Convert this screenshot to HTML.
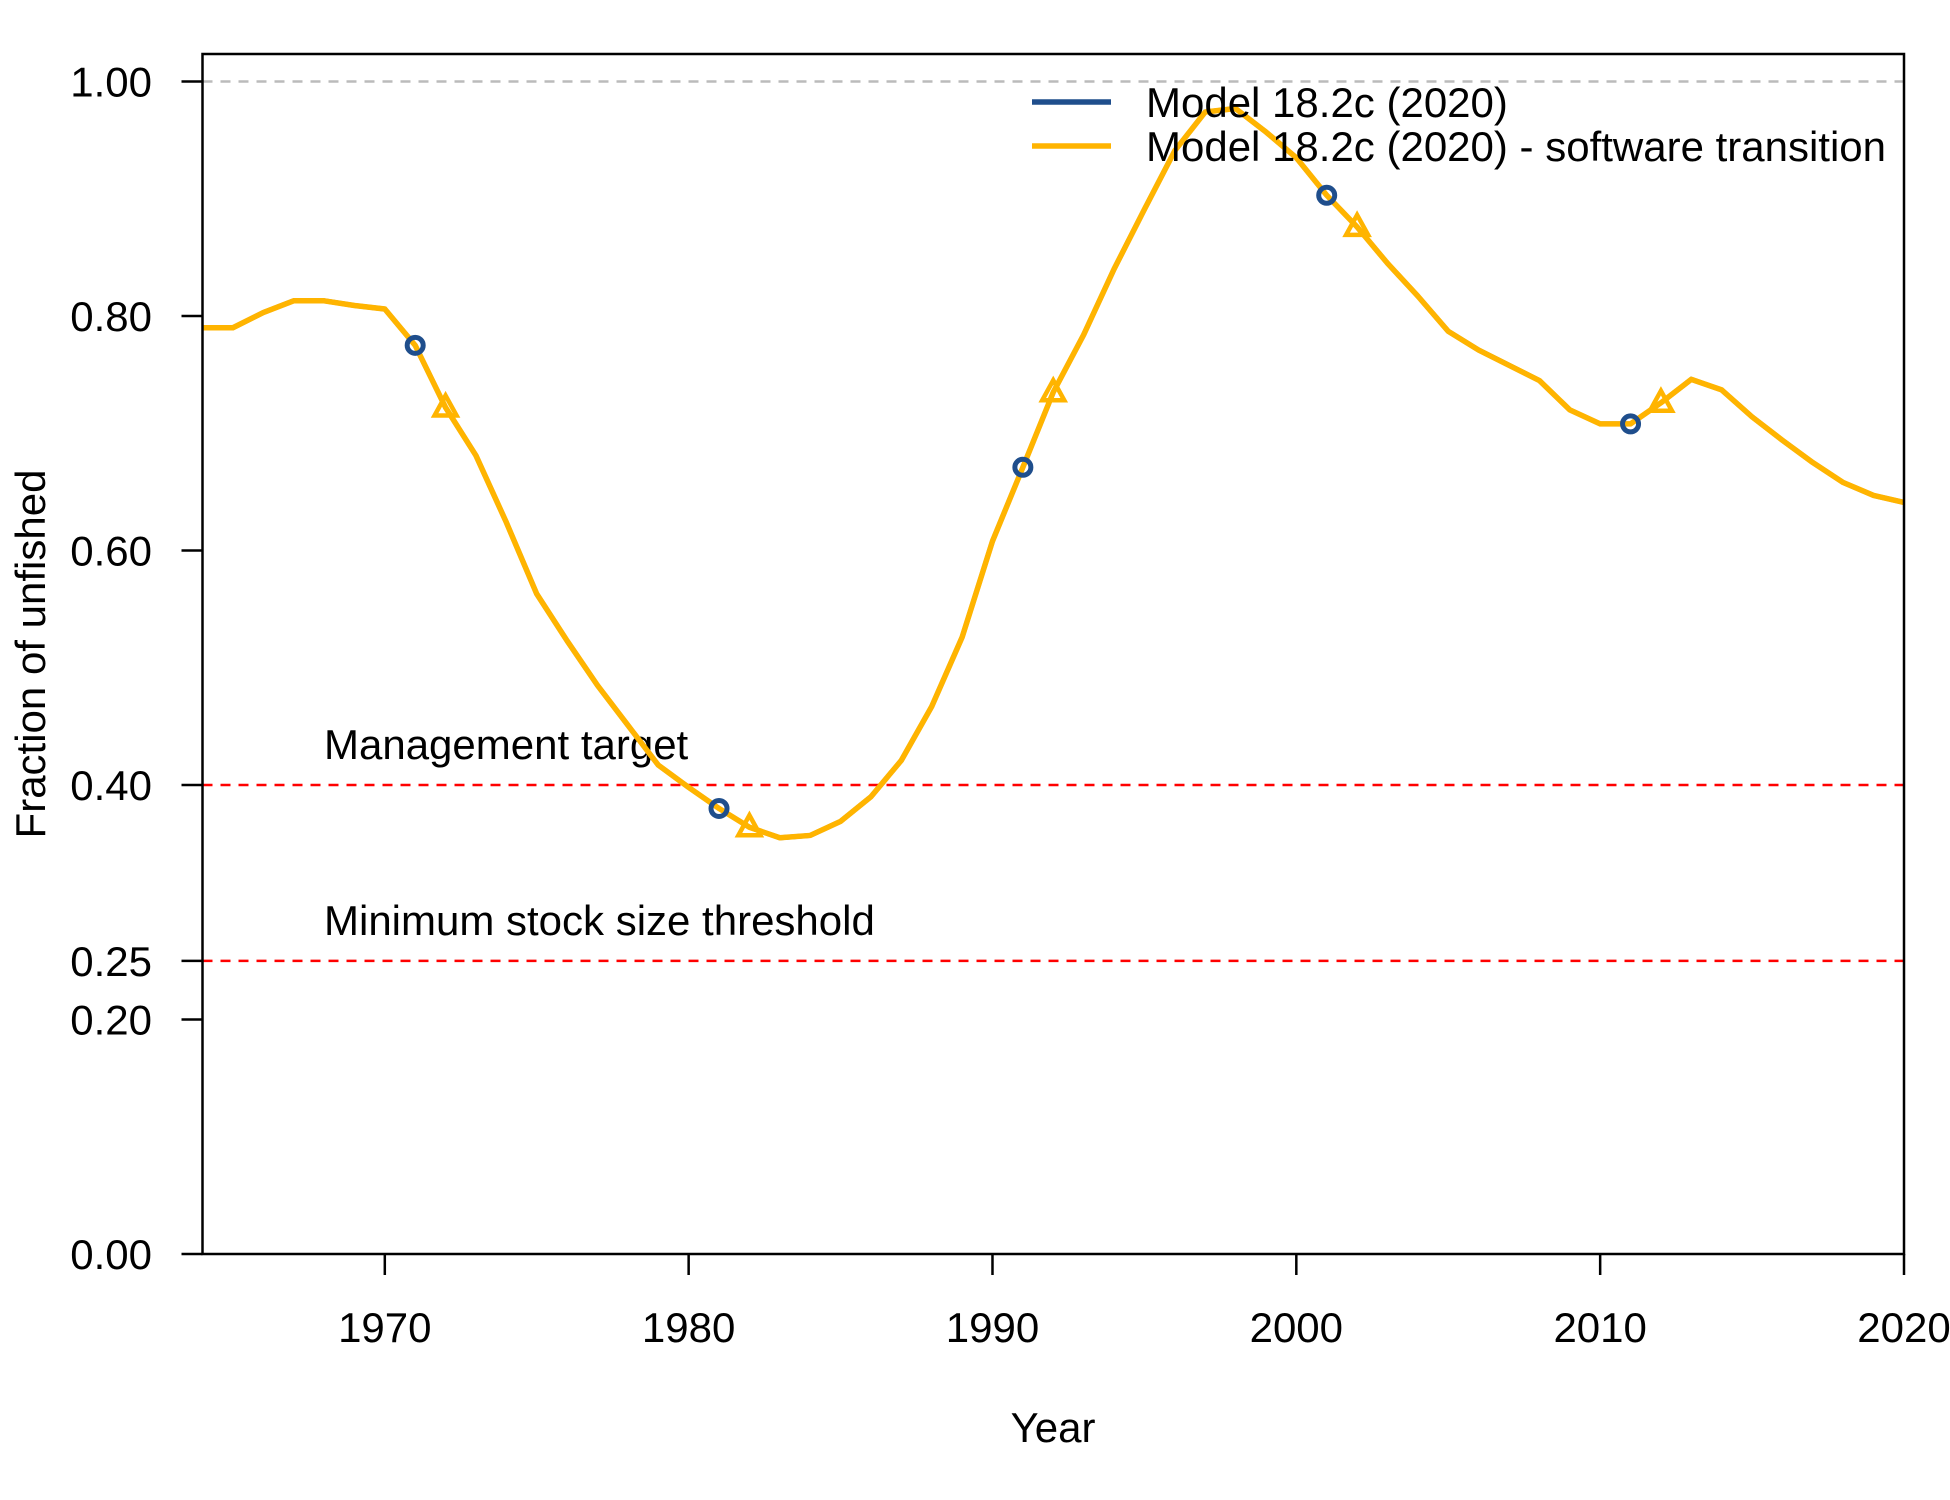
<!DOCTYPE html>
<html><head><meta charset="utf-8"><style>body{margin:0;background:#fff}svg{display:block}text{font-family:"Liberation Sans",sans-serif;fill:#000}</style></head>
<body>
<svg width="1950" height="1500" viewBox="0 0 1950 1500" xmlns="http://www.w3.org/2000/svg">
<g id="grid"></g><g id="series"></g><g id="axes"></g>
</svg>
<script>
const years=[];for(let y=1964;y<=2020;y++)years.push(y);
const values=[0.790,0.790,0.803,0.813,0.813,0.809,0.806,0.775,0.722,0.681,0.624,0.563,0.523,0.485,0.451,0.417,0.398,0.380,0.364,0.355,0.357,0.369,0.390,0.421,0.467,0.526,0.608,0.671,0.735,0.784,0.840,0.891,0.941,0.974,0.977,0.957,0.935,0.903,0.876,0.845,0.817,0.787,0.771,0.758,0.745,0.720,0.708,0.708,0.726,0.746,0.737,0.714,0.694,0.675,0.658,0.647,0.641];
const circleYears=[1971,1981,1991,2001,2011];
const triangleYears=[1972,1982,1992,2002,2012];
const yTicks=[0,0.2,0.25,0.4,0.6,0.8,1.0];
const yTickLabels=["0.00","0.20","0.25","0.40","0.60","0.80","1.00"];
const xTicks=[1970,1980,1990,2000,2010,2020];
const refLines=[0.4,0.25];
const refLabels=["Management target","Minimum stock size threshold"];
const L=202.5,R=1904,T=54,B=1254;
const X=v=>L+(v-1964)/(2020-1964)*(R-L);
const Y=v=>B-v/1.0235*(B-T);
const NS="http://www.w3.org/2000/svg";
function mk(t,a,p,txt){const e=document.createElementNS(NS,t);for(const k in a)e.setAttribute(k,a[k]);if(txt!==undefined)e.textContent=txt;p.appendChild(e);return e;}
const grid=document.getElementById('grid'),ser=document.getElementById('series'),ax=document.getElementById('axes');
let e=mk('line',{x1:L,x2:R,y1:Y(1),y2:Y(1),stroke:'#bbb','stroke-width':2.5,'stroke-dasharray':'10 8'},grid);


refLines.forEach((v,i)=>{
 e=mk('line',{x1:L,x2:R,y1:Y(v),y2:Y(v),stroke:'#f00','stroke-width':2.5,'stroke-dasharray':'10 8'},grid);
 
 
 e=mk('text',{x:324,y:Y(v)-26,'font-size':42},grid,refLabels[i]);
 
 
});
const pts=years.map((y,i)=>X(y)+','+Y(values[i])).join(' ');
e=mk('polyline',{points:pts,fill:'none',stroke:'#1f4e8c','stroke-width':5},ser);


e=mk('polyline',{points:pts,fill:'none',stroke:'#ffb400','stroke-width':5.5,'stroke-linejoin':'round'},ser);


circleYears.forEach(y=>{const v=values[years.indexOf(y)];
 e=mk('circle',{cx:X(y),cy:Y(v),r:8,fill:'none',stroke:'#1f4e8c','stroke-width':5},ser);
 
 });
triangleYears.forEach(y=>{const v=values[years.indexOf(y)],cx=X(y),cy=Y(v);
 e=mk('polygon',{points:`${cx},${cy-12} ${cx-11},${cy+8} ${cx+11},${cy+8}`,fill:'none',stroke:'#ffb400','stroke-width':4.5},ser);
 
 });
e=mk('rect',{x:L,y:T,width:R-L,height:B-T,fill:'none',stroke:'#000','stroke-width':2.5},ax);


yTicks.forEach((v,i)=>{
 e=mk('line',{x1:L-21,x2:L,y1:Y(v),y2:Y(v),stroke:'#000','stroke-width':2.5},ax);
 
 
 e=mk('text',{x:152,y:Y(v)+15,'font-size':42,'text-anchor':'end'},ax,yTickLabels[i]);
 
 });
xTicks.forEach(v=>{
 e=mk('line',{x1:X(v),x2:X(v),y1:B,y2:B+21,stroke:'#000','stroke-width':2.5},ax);
 
 
 e=mk('text',{x:X(v),y:1342,'font-size':42,'text-anchor':'middle'},ax,String(v));
 
 });
e=mk('text',{x:1053,y:1442,'font-size':42,'text-anchor':'middle'},ax,'Year');


e=mk('text',{x:0,y:0,'font-size':42,'text-anchor':'middle',transform:'translate(45,654) rotate(-90)'},ax,'Fraction of unfished');


[['#1f4e8c','Model 18.2c (2020)',102],['#ffb400','Model 18.2c (2020) - software transition',146]].forEach((d,i)=>{
 e=mk('line',{x1:1032,x2:1111,y1:d[2],y2:d[2],stroke:d[0],'stroke-width':5.5},ax);
 
 
 e=mk('text',{x:1146,y:d[2]+15,'font-size':42},ax,d[1]);
 
 });
</script>
</body></html>
